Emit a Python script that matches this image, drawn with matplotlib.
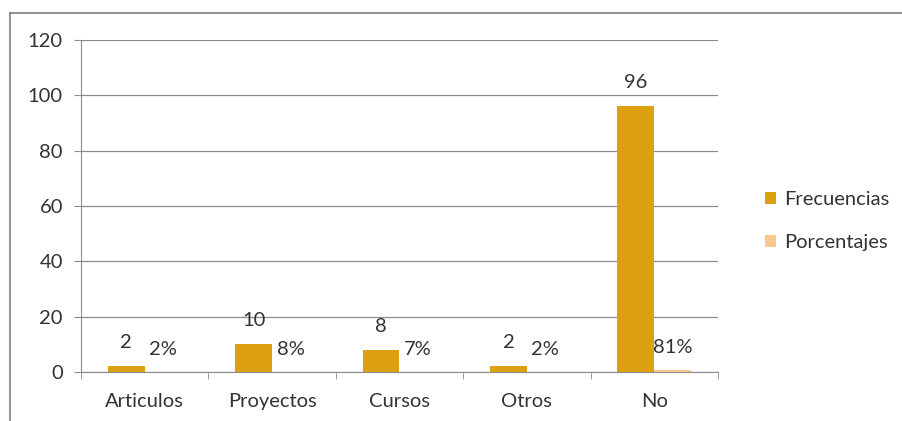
import matplotlib.pyplot as plt
import numpy as np
from matplotlib.lines import Line2D

categories = ["Articulos", "Proyectos", "Cursos", "Otros", "No"]
frecuencias = [2, 10, 8, 2, 96]
porcentajes = [0.02, 0.08, 0.07, 0.02, 0.81]
yticks = [0, 20, 40, 60, 80, 100, 120]

C_FREQ = "#DDA00E"
C_PCT = "#F8C98E"
GRID = "#8c8c8c"
TXT = "#333333"
FS = 14.5

plt.rcParams["font.family"] = ["Lato", "DejaVu Sans"]

fig = plt.figure(figsize=(9.02, 4.21), dpi=100)
ax = fig.add_axes([0.0898, 0.1164, 0.7062, 0.7886])

x = np.arange(len(categories))
w = 0.29
b1 = ax.bar(x - w / 2, frecuencias, w, color=C_FREQ, label="Frecuencias")
b2 = ax.bar(x + w / 2, porcentajes, w, color=C_PCT, label="Porcentajes")

for rect, v in zip(b1, frecuencias):
    ax.annotate(str(v), (rect.get_x() + rect.get_width() / 2, rect.get_height()),
                xytext=(0, 17), textcoords="offset points", ha="center",
                va="center", fontsize=FS, color=TXT)
for rect, v in zip(b2, porcentajes):
    ax.annotate(f"{v:.0%}", (rect.get_x() + rect.get_width() / 2, rect.get_height()),
                xytext=(0, 16), textcoords="offset points", ha="center",
                va="center", fontsize=FS, color=TXT)

ax.set_xlim(-0.5, len(categories) - 0.5)
ax.set_ylim(0, 120)
ax.set_yticks(yticks)
ax.yaxis.grid(True, color=GRID, lw=0.9)
ax.set_axisbelow(True)

ax.set_xticks(x)
ax.set_xticklabels(categories)
ax.set_xticks(np.arange(-0.5, len(categories)), minor=True)
ax.tick_params(axis="x", which="major", length=0, pad=15, labelsize=FS,
               labelcolor=TXT)
ax.tick_params(axis="x", which="minor", length=5, color=GRID)
ax.tick_params(axis="y", length=5, color=GRID, labelsize=FS, labelcolor=TXT,
               pad=8)

for s in ("top", "right"):
    ax.spines[s].set_visible(False)
ax.spines["left"].set_color(GRID)
ax.spines["bottom"].set_color(GRID)

ax.legend(loc="center left", bbox_to_anchor=(1.045, 0.455), frameon=False,
          fontsize=FS, handlelength=0.55, handleheight=0.55, handletextpad=0.4,
          labelspacing=1.3, labelcolor=TXT)

# outer chart frame
fig.add_artist(Line2D([10 / 902, 1.0], [1 - 13 / 421, 1 - 13 / 421],
                      transform=fig.transFigure, color="#7f7f7f", lw=1.2))
fig.add_artist(Line2D([10 / 902, 10 / 902], [0, 1 - 13 / 421],
                      transform=fig.transFigure, color="#7f7f7f", lw=1.2))

fig.savefig("out.png", dpi=100)
